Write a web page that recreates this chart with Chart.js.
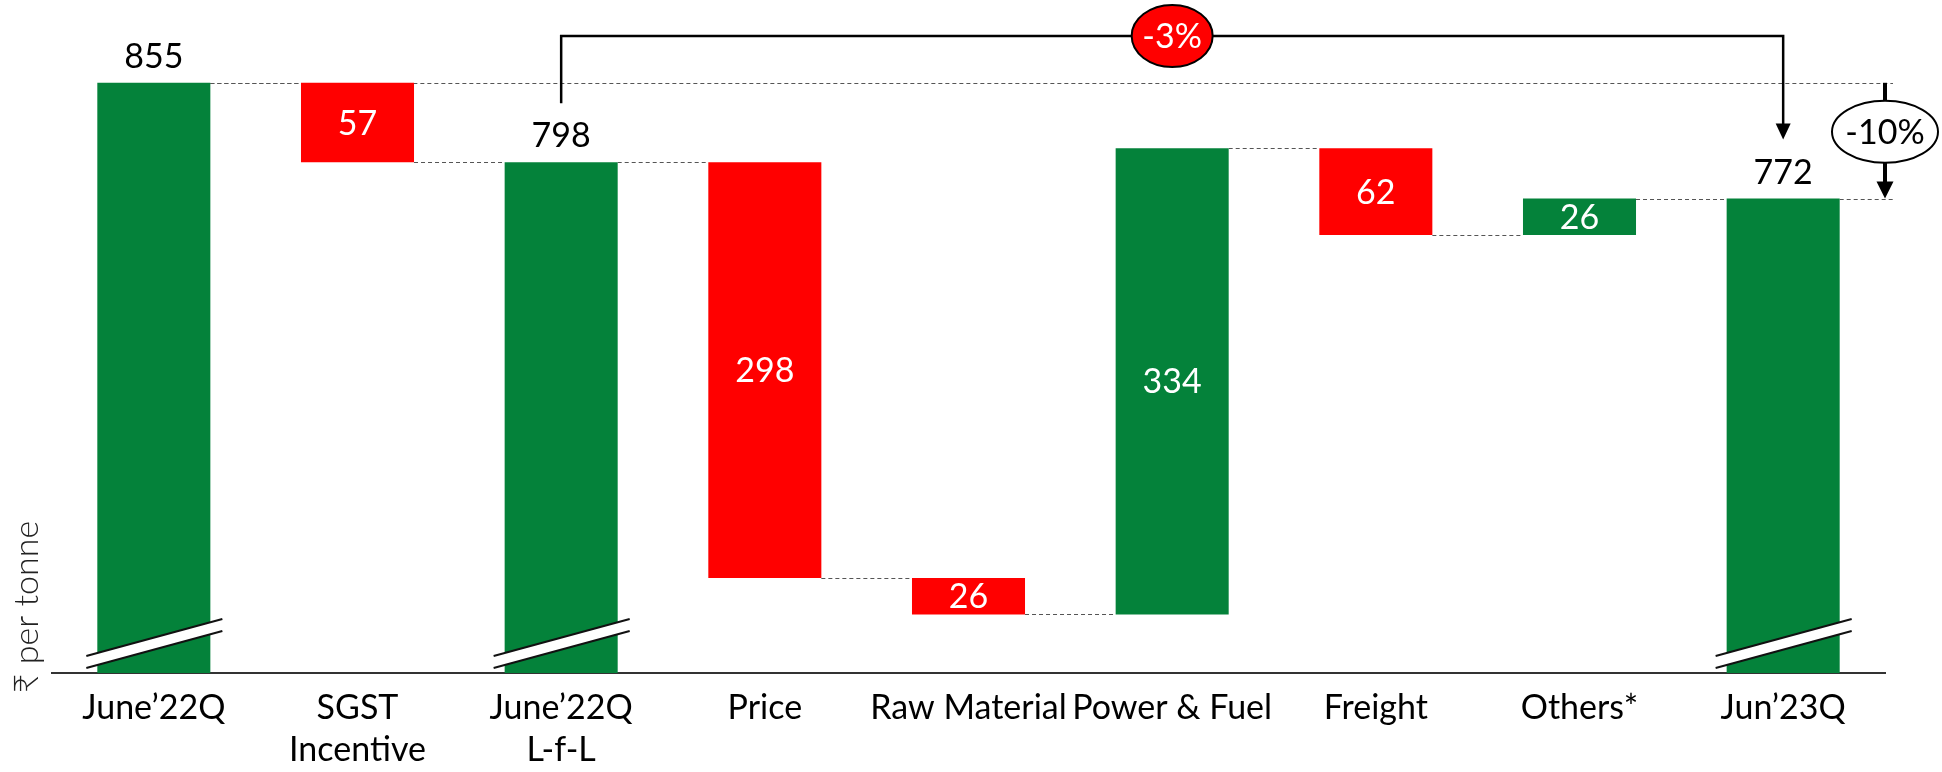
<!DOCTYPE html>
<html><head><meta charset="utf-8">
<script src="https://cdn.jsdelivr.net/npm/chart.js@4.4.1/dist/chart.umd.min.js"></script>
<style>html,body{margin:0;padding:0;background:#fff;} #wrap{width:1942px;height:772px;position:relative;}</style>
</head><body><div id="wrap"><canvas id="c"></canvas></div>
<script>
// ---- data ----
const categories = [["June’22Q"], ["SGST", "Incentive"], ["June’22Q", "L-f-L"], ["Price"], ["Raw Material"], ["Power & Fuel"], ["Freight"], ["Others*"], ["Jun’23Q"]];
const values = [855, -57, 798, -298, -26, 334, -62, 26, 772];
const isTotal = [true, false, true, false, false, false, false, false, true];
const axisBreakValue = 432;
const axisTopValue = 900;
const yTitle = "₹ per tonne";
const bracketLabel = "-3%";
const bracketFrom = 2, bracketTo = 8;
const sideLabel = "-10%";
const sideFrom = 0, sideTo = 8;

// ---- build ranges ----
const ends = [];
let run = 0;
const ranges = values.map((v, i) => {
  if (isTotal[i]) { run = v; ends.push(run); return [axisBreakValue, v]; }
  const s = run; run += v; ends.push(run);
  return [Math.min(s, run), Math.max(s, run)];
});
const GREEN = '#04823A', RED = '#FF0000';
const colors = values.map((v, i) => (isTotal[i] || v > 0) ? GREEN : RED);
const FONT = "Lato, 'Noto Sans', 'DejaVu Sans', sans-serif";
const FS = 34;

function ellipse(ctx, cx, cy, rx, ry, fill, text, textColor) {
  ctx.save();
  ctx.beginPath();
  ctx.ellipse(cx, cy, rx, ry, 0, 0, Math.PI * 2);
  ctx.fillStyle = fill; ctx.fill();
  ctx.lineWidth = 2; ctx.strokeStyle = '#000'; ctx.stroke();
  ctx.fillStyle = textColor;
  ctx.font = FS + "px " + FONT;
  ctx.textAlign = 'center'; ctx.textBaseline = 'alphabetic';
  ctx.fillText(text, cx, cy + 12);
  ctx.restore();
}
function arrowHead(ctx, x, tipY, w, h) {
  ctx.beginPath();
  ctx.moveTo(x - w / 2, tipY - h);
  ctx.lineTo(x + w / 2, tipY - h);
  ctx.lineTo(x, tipY);
  ctx.closePath();
  ctx.fill();
}

const waterfall = {
  id: 'waterfall',
  beforeDatasetsDraw(chart) {
    const ctx = chart.ctx, ys = chart.scales.y, els = chart.getDatasetMeta(0).data;
    const area = chart.chartArea;
    ctx.save();
    ctx.strokeStyle = '#555'; ctx.lineWidth = 1.2; ctx.setLineDash([4, 3]);
    for (let i = 0; i < els.length - 1; i++) {
      const y = Math.round(ys.getPixelForValue(ends[i])) + 0.5;
      ctx.beginPath();
      ctx.moveTo(els[i].x + els[i].width / 2, y);
      ctx.lineTo(els[i + 1].x - els[i + 1].width / 2, y);
      ctx.stroke();
    }
    const rx = area.right + 8;
    [sideFrom, sideTo].forEach(i => {
      const y = Math.round(ys.getPixelForValue(ends[i])) + 0.5;
      ctx.beginPath();
      ctx.moveTo(els[i].x + els[i].width / 2, y);
      ctx.lineTo(rx, y);
      ctx.stroke();
    });
    ctx.restore();
  },
  afterDatasetsDraw(chart) {
    const ctx = chart.ctx, ys = chart.scales.y, els = chart.getDatasetMeta(0).data;
    const area = chart.chartArea;
    ctx.save();
    // axis breaks
    els.forEach((el, i) => {
      if (!isTotal[i]) return;
      const l = el.x - el.width / 2 - 11, r = el.x + el.width / 2 + 12;
      const b = area.bottom;
      const y1l = b - 5, y1r = b - 42, gap = 12;
      ctx.beginPath();
      ctx.moveTo(l, y1l); ctx.lineTo(r, y1r); ctx.lineTo(r, y1r - gap); ctx.lineTo(l, y1l - gap); ctx.closePath();
      ctx.fillStyle = '#fff'; ctx.fill();
      ctx.strokeStyle = '#111'; ctx.lineWidth = 2;
      ctx.beginPath(); ctx.moveTo(l, y1l); ctx.lineTo(r, y1r); ctx.stroke();
      ctx.beginPath(); ctx.moveTo(l, y1l - gap); ctx.lineTo(r, y1r - gap); ctx.stroke();
    });
    // value labels
    ctx.font = FS + "px " + FONT;
    ctx.textAlign = 'center'; ctx.textBaseline = 'alphabetic';
    els.forEach((el, i) => {
      if (isTotal[i]) {
        ctx.fillStyle = '#000';
        ctx.fillText(String(values[i]), el.x, el.y - 15);
      } else {
        ctx.fillStyle = '#fff';
        const cy = (el.y + el.base) / 2;
        ctx.fillText(String(Math.abs(values[i])), el.x, cy + 12);
      }
    });
    // bracket annotation
    const a = els[bracketFrom], bEl = els[bracketTo];
    const topY = area.top + 16;
    ctx.strokeStyle = '#000'; ctx.fillStyle = '#000'; ctx.lineWidth = 2.5; ctx.setLineDash([]);
    ctx.beginPath();
    ctx.moveTo(a.x, a.y - 59);
    ctx.lineTo(a.x, topY);
    ctx.lineTo(bEl.x, topY);
    ctx.lineTo(bEl.x, bEl.y - 59 - 15);
    ctx.stroke();
    arrowHead(ctx, bEl.x, bEl.y - 59, 15, 16);
    ellipse(ctx, (a.x + bEl.x) / 2, topY, 40.5, 31, RED, bracketLabel, '#fff');
    // side annotation
    const sx = area.right;
    const y0 = ys.getPixelForValue(ends[sideFrom]), y1 = ys.getPixelForValue(ends[sideTo]);
    const cy = (y0 + y1) / 2 - 9;
    ctx.lineWidth = 4;
    ctx.beginPath(); ctx.moveTo(sx, y0); ctx.lineTo(sx, cy - 31); ctx.stroke();
    ctx.beginPath(); ctx.moveTo(sx, cy + 31); ctx.lineTo(sx, y1 - 15); ctx.stroke();
    arrowHead(ctx, sx, y1, 17, 17);
    ellipse(ctx, sx, cy, 53, 31, '#fff', sideLabel, '#000');
    // y title
    ctx.save();
    ctx.translate(27, 607);
    ctx.rotate(-Math.PI / 2);
    ctx.fillStyle = '#222';
    ctx.font = "300 34px " + FONT;
    ctx.textAlign = 'center'; ctx.textBaseline = 'middle';
    ctx.fillText(yTitle, 0, 0);
    ctx.restore();
    ctx.restore();
  }
};

new Chart(document.getElementById('c'), {
  type: 'bar',
  data: {
    labels: categories,
    datasets: [{ data: ranges, backgroundColor: colors, borderWidth: 0, barPercentage: 0.555, categoryPercentage: 1.0 }]
  },
  options: {
    responsive: true, maintainAspectRatio: false, animation: false,
    layout: { padding: { left: 52, right: 57, top: 20, bottom: 0 } },
    plugins: { legend: { display: false }, tooltip: { enabled: false } },
    scales: {
      x: {
        grid: { display: false, drawTicks: false },
        border: { display: true, color: '#333', width: 2 },
        ticks: { color: '#000', font: { family: FONT, size: FS, lineHeight: 42 / FS }, padding: 14, maxRotation: 0, autoSkip: false },
        afterFit(s) { s.height = 99; }
      },
      y: { display: false, min: axisBreakValue, max: axisTopValue }
    }
  },
  plugins: [waterfall]
});
</script></body></html>
